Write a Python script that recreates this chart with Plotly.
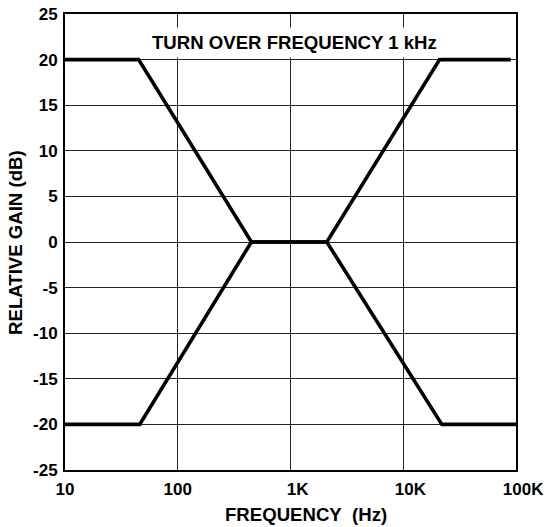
import plotly.graph_objects as go

# Data
freq_cut = [10, 45, 450, 2100, 21000, 90000]
gain_cut = [20, 20, 0, 0, 20, 20]
freq_boost = [10, 46, 450, 2100, 22000, 100000]
gain_boost = [-20, -20, 0, 0, -20, -20]

x_tickvals = [10, 100, 1000, 10000, 100000]
x_ticktext = ["10", "100", "\u00a0\u00a0\u00a01K", "\u00a0\u00a0\u00a010K", "\u00a0\u00a0\u00a0100K"]
y_tickvals = [-25, -20, -15, -10, -5, 0, 5, 10, 15, 20, 25]
y_ticktext = ["-25", "-20", "-15", "-10", "-5", "0", "5", "10", "15", "20", "25"]

FONT = "Liberation Sans, Arial, sans-serif"

fig = go.Figure()
for fx, gy in [(freq_cut, gain_cut), (freq_boost, gain_boost)]:
    fig.add_trace(go.Scatter(x=fx, y=gy, mode="lines",
                             line=dict(color="black", width=3.6),
                             showlegend=False, hoverinfo="skip"))

fig.update_layout(
    width=548, height=527,
    margin=dict(l=65, r=32, t=14, b=57, autoexpand=False),
    paper_bgcolor="white", plot_bgcolor="white",
    font=dict(family=FONT, size=17, color="black", weight="bold"),
)
fig.update_xaxes(
    type="log", range=[1, 5], automargin=False,
    tickvals=x_tickvals, ticktext=x_ticktext,
    showgrid=True, gridcolor="#222", gridwidth=1,
    showline=True, linecolor="black", linewidth=2, mirror=True,
    ticks="outside", ticklen=3, tickcolor="rgba(0,0,0,0)",
    zeroline=False,
)
fig.update_yaxes(
    range=[-25, 25], automargin=False,
    tickvals=y_tickvals, ticktext=y_ticktext,
    showgrid=True, gridcolor="#222", gridwidth=1,
    showline=True, linecolor="black", linewidth=2, mirror=True,
    ticks="outside", ticklen=2, tickcolor="rgba(0,0,0,0)",
    zeroline=False,
)

fig.add_annotation(
    text="TURN OVER FREQUENCY 1 kHz", xref="paper", x=0.509, yref="y", y=21.9,
    showarrow=False, bgcolor="white", borderpad=4,
    font=dict(family=FONT, size=18.6, color="black", weight="bold"),
    xanchor="center", yanchor="middle",
)
fig.add_annotation(
    text="FREQUENCY\u00a0\u00a0(Hz)", xref="paper", x=0.534, yref="paper", y=-0.098,
    showarrow=False, xanchor="center", yanchor="middle",
    font=dict(family=FONT, size=18.6, color="black", weight="bold"),
)
fig.add_annotation(
    text="RELATIVE GAIN (dB)", xref="paper", x=-0.111, yref="paper", y=0.5,
    showarrow=False, xanchor="center", yanchor="middle", textangle=-90,
    font=dict(family=FONT, size=18.6, color="black", weight="bold"),
)

fig.write_html("out.html")
